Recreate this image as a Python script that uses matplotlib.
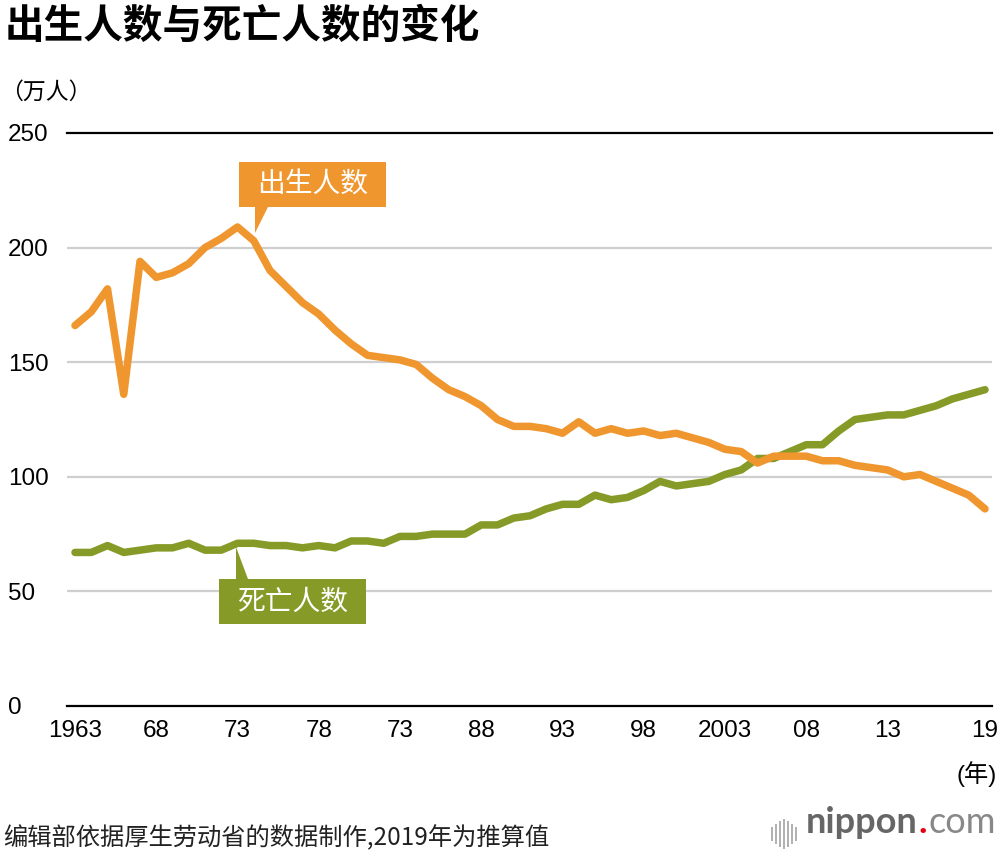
import matplotlib
matplotlib.use('Agg')
import matplotlib.pyplot as plt
from matplotlib.patches import Polygon

# ---------------- data ----------------
years = list(range(1963, 2020))
births = [166, 172, 182, 136, 194, 187, 189, 193, 200, 204,
          209, 203, 190, 183, 176, 171, 164, 158, 153, 152,
          151, 149, 143, 138, 135, 131, 125, 122, 122, 121,
          119, 124, 119, 121, 119, 120, 118, 119, 117, 115,
          112, 111, 106, 109, 109, 109, 107, 107, 105, 104,
          103, 100, 101, 98, 95, 92, 86]
deaths = [67, 67, 70, 67, 68, 69, 69, 71, 68, 68,
          71, 71, 70, 70, 69, 70, 69, 72, 72, 71,
          74, 74, 75, 75, 75, 79, 79, 82, 83, 86,
          88, 88, 92, 90, 91, 94, 98, 96, 97, 98,
          101, 103, 108, 108, 111, 114, 114, 120, 125, 126,
          127, 127, 129, 131, 134, 136, 138]
xtick_years = [1963, 1968, 1973, 1978, 1983, 1988, 1993, 1998, 2003, 2008, 2013, 2019]
xtick_labels = ['1963', '68', '73', '78', '73', '88', '93', '98', '2003', '08', '13', '19']
yticks = [0, 50, 100, 150, 200, 250]

title = '出生人数与死亡人数的变化'
unit_label = '（万人）'
year_label = '(年)'
birth_label = '出生人数'
death_label = '死亡人数'
footer = '编辑部依据厚生劳动省的数据制作,2019年为推算值'

ORANGE = '#F0962E'
GREEN = '#869A27'

W, H = 1000, 856
CJK = ['Noto Sans CJK SC', 'DejaVu Sans']
NUM = ['Liberation Sans', 'Noto Sans CJK SC', 'DejaVu Sans']

fig = plt.figure(figsize=(W / 100, H / 100), dpi=100)
fig.patch.set_facecolor('white')

def fx(x):
    return x / W

def fy(y):
    return 1 - y / H

ax = fig.add_axes([fx(67), fy(706), (992 - 67) / W, 573 / H])
ax.set_xlim(1963 - 8 / 16.25, 2019 + 7 / 16.25)
ax.set_ylim(0, 250)
for s in ax.spines.values():
    s.set_visible(False)
ax.set_facecolor('none')

for v in yticks:
    if v in (0, 250):
        ax.axhline(v, color='black', lw=1.6, zorder=1, clip_on=False)
    else:
        ax.axhline(v, color='#cfcfcf', lw=1.6, zorder=1)

ax.set_yticks(yticks)
ax.set_yticklabels([str(v) for v in yticks], family=NUM, fontsize=17.5, ha='left')
ax.tick_params(axis='y', length=0, pad=42.5)
ax.set_xticks(xtick_years)
ax.set_xticklabels(xtick_labels, family=NUM, fontsize=17.5)
ax.tick_params(axis='x', length=0, pad=10)

ax.plot(years, deaths, color=GREEN, lw=5.4, solid_capstyle='round',
        solid_joinstyle='round', zorder=3, clip_on=False)
ax.plot(years, births, color=ORANGE, lw=5.4, solid_capstyle='round',
        solid_joinstyle='round', zorder=4, clip_on=False)

# callouts (figure pixel positions)
def callout(pts, color, text, cx, cy):
    poly = Polygon([(fx(x), fy(y)) for x, y in pts], closed=True,
                   transform=fig.transFigure, facecolor=color, edgecolor='none', zorder=10)
    fig.patches.append(poly)
    fig.text(fx(cx), fy(cy), text, color='white', fontsize=20, family=CJK,
             ha='center', va='center', zorder=11)

callout([(239, 162), (386, 162), (386, 207), (268, 207), (255, 233), (255, 207), (239, 207)],
        ORANGE, birth_label, 312.5, 185)
callout([(219, 579), (236, 579), (236, 547), (248, 579), (366, 579), (366, 624), (219, 624)],
        GREEN, death_label, 292.5, 602)

# texts
fig.text(fx(5), fy(26), title, fontsize=28.5, fontweight='bold', family=CJK,
         ha='left', va='center', color='black')
fig.text(fx(0), fy(92), unit_label, fontsize=16.5, family=CJK, ha='left', va='center',
         color='black')
fig.text(fx(997), fy(774), year_label, fontsize=17.5, family=NUM, ha='right', va='center',
         color='black')
fig.text(fx(3), fy(838), footer, fontsize=17.5, family=CJK, ha='left', va='center',
         color='#222222')

# logo
bar_x = [772, 776, 780, 784, 788, 792, 796]
bar_h = [12, 18, 24, 28, 24, 18, 12]
for bx, bh in zip(bar_x, bar_h):
    fig.add_artist(plt.Line2D([fx(bx), fx(bx)], [fy(834 - bh / 2), fy(834 + bh / 2)],
                              transform=fig.transFigure, color='#b0b0b0', lw=1.4))

fig.canvas.draw()
r = fig.canvas.get_renderer()
t1 = fig.text(fx(806), fy(833), 'nippon', fontsize=26, family=['Lato', 'DejaVu Sans'],
              fontweight='bold', color='#666666', ha='left', va='baseline')
fig.canvas.draw()
e = t1.get_window_extent(r)
t2 = fig.text(e.x1 / W + 0.001, fy(833), '.', fontsize=26, family=['Lato', 'DejaVu Sans'],
              fontweight='bold', color='#e60012', ha='left', va='baseline')
fig.canvas.draw()
e2 = t2.get_window_extent(r)
fig.text(e2.x1 / W + 0.001, fy(833), 'com', fontsize=26, family=['Lato', 'DejaVu Sans'],
         fontweight='normal', color='#888888', ha='left', va='baseline')

fig.savefig('out.png', dpi=100, facecolor='white')
